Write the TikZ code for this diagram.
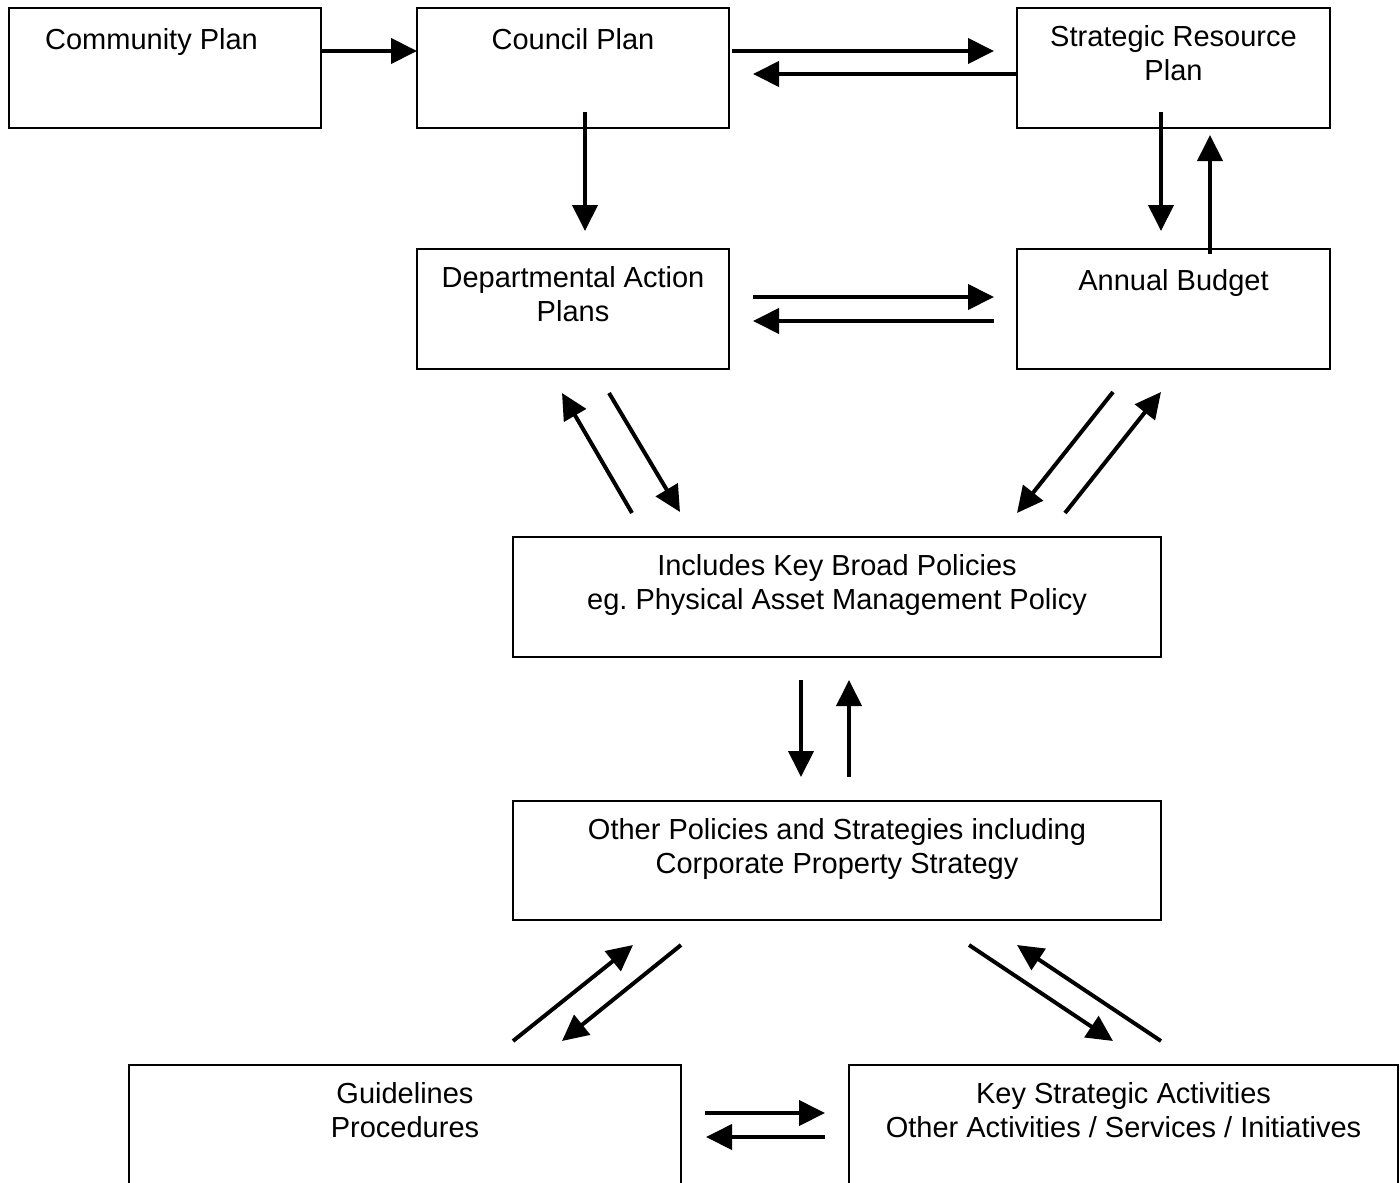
\documentclass[tikz,border=0pt]{standalone}
\usepackage{fontspec}
\setmainfont{Liberation Sans}
\usetikzlibrary{calc,positioning,arrows.meta}

\begin{document}
\begin{tikzpicture}[x=1pt,y=-1pt,
		box/.style={draw,line width=2pt,outer sep=0pt,minimum height=120pt},
		txt/.style={inner sep=0pt,align=center,font={\fontsize{29}{34}\selectfont},execute at begin node=\strut},
		flow/.style={line width=4pt,-{Triangle[length=26pt,width=25pt]}}]
			%%%%% START %%%%%
			
			\useasboundingbox (0,0) rectangle (1400,1183);
			
			\node[box,minimum width=312pt] (comm) at (165,68) {};
			\node[box,minimum width=312pt] (council) at (573,68) {};
			\node[box,minimum width=313pt] (srp) at (1173.5,68) {};
			\node[box,minimum width=312pt] (dept) at (573,309) {};
			\node[box,minimum width=313pt] (budget) at (1173.5,309) {};
			\node[box,minimum width=648pt] (broad) at (837,597) {};
			\node[box,minimum width=648pt,minimum height=119pt] (other) at (837,860.5) {};
			\node[box,minimum width=552pt,minimum height=140pt] (guide) at (405,1135) {};
			\node[box,minimum width=549pt,minimum height=140pt] (key) at (1123.5,1135) {};
			
			\node[txt,below=17pt of comm.north,xshift=-13.5pt] (comm-t) {Community Plan};
			\node[txt,below=17pt of council.north] (council-t) {Council Plan};
			\node[txt,below=17pt of srp.north] (srp-t) {Strategic Resource\\Plan};
			\node[txt,below=17pt of dept.north] (dept-t) {Departmental Action\\Plans};
			\node[txt,below=17pt of budget.north] (budget-t) {Annual Budget};
			\node[txt,below=17pt of broad.north] (broad-t) {Includes Key Broad Policies\\eg.\ Physical Asset Management Policy};
			\node[txt,below=17pt of other.north] (other-t) {Other Policies and Strategies including\\Corporate Property Strategy};
			\node[txt,below=17pt of guide.north] (guide-t) {Guidelines\\Procedures};
			\node[txt,below=17pt of key.north] (key-t) {Key Strategic Activities\\Other Activities / Services / Initiatives};
			
			% top row
			\draw[flow] ($(comm.east)+(0,-17)$) -- ($(council.west)+(0,-17)$);
			\draw[flow] ($(council.east)+(3,-17)$) -- ($(srp.west)+(-23,-17)$);
			\draw[flow] ($(srp.west)+(0,6)$) -- ($(council.east)+(24,6)$);
			
			% down to second row
			\draw[flow] ($(council.south)+(12,-16)$) -- ($(dept.north)+(12,-18)$);
			\draw[flow] ($(srp.south)+(-12.5,-16)$) -- ($(budget.north)+(-12.5,-18)$);
			\draw[flow] ($(budget.north)+(36.5,5)$) -- ($(srp.south)+(36.5,7)$);
			\draw[flow] ($(dept.east)+(24,-12)$) -- ($(budget.west)+(-23,-12)$);
			\draw[flow] ($(budget.west)+(-23,12)$) -- ($(dept.east)+(24,12)$);
			
			% key broad policies
			\draw[flow] ($(broad.north)+(-205,-24)$) -- ($(dept.south)+(-11,24)$);
			\draw[flow] ($(dept.south)+(36,24)$) -- ($(broad.north)+(-157,-25)$);
			\draw[flow] ($(budget.south)+(-60.5,23)$) -- ($(broad.north)+(180,-24)$);
			\draw[flow] ($(broad.north)+(228,-24)$) -- ($(budget.south)+(-12.5,23)$);
			\draw[flow] ($(broad.south)+(-36,23)$) -- ($(other.north)+(-36,-24)$);
			\draw[flow] ($(other.north)+(12,-24)$) -- ($(broad.south)+(12,23)$);
			
			% bottom row
			\draw[flow] ($(guide.north)+(108,-24)$) -- ($(other.south)+(-204,25)$);
			\draw[flow] ($(other.south)+(-156,25)$) -- ($(guide.north)+(157,-24)$);
			\draw[flow] ($(other.south)+(132,25)$) -- ($(key.north)+(-10.5,-24)$);
			\draw[flow] ($(key.north)+(37.5,-24)$) -- ($(other.south)+(180,25)$);
			\draw[flow] ($(guide.north east)+(24,48)$) -- ($(key.north west)+(-24,48)$);
			\draw[flow] ($(key.north west)+(-24,72)$) -- ($(guide.north east)+(25,72)$);
			
			%%%%% END %%%%%
		\end{tikzpicture}
\end{document}
